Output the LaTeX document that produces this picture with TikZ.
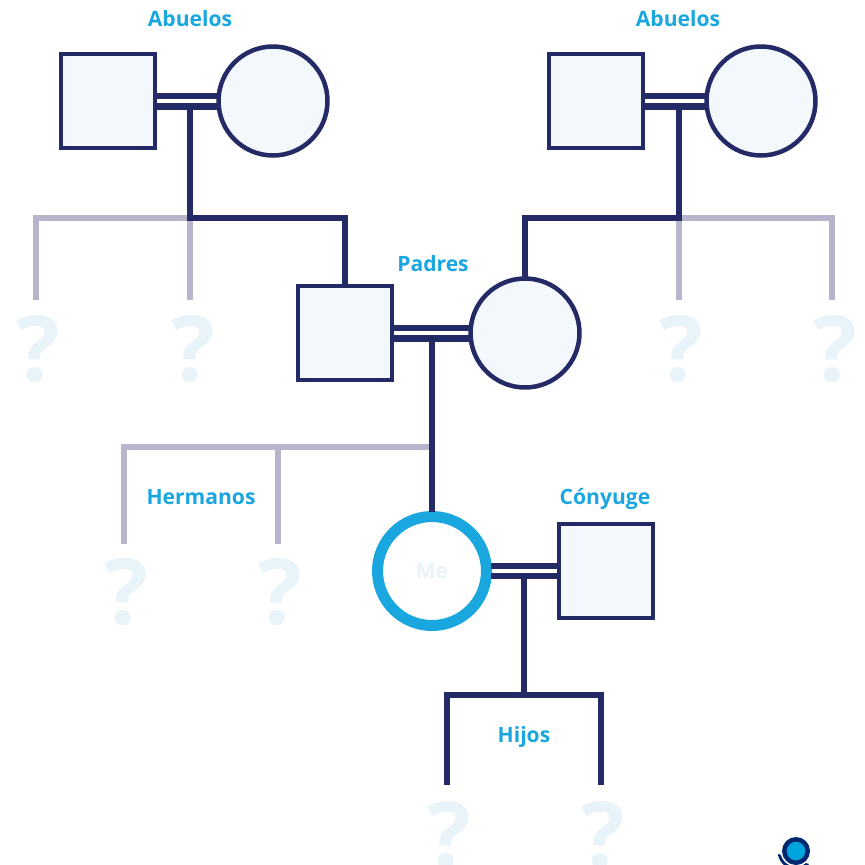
\documentclass[tikz,border=0pt]{standalone}
\usepackage{fontspec}
\setmainfont{Open Sans}
\definecolor{navy}{HTML}{232A66}
\definecolor{greyline}{HTML}{B7B4CC}
\definecolor{skyblue}{HTML}{1AA7E0}
\definecolor{paleblue}{HTML}{F3F8FD}
\definecolor{palemark}{HTML}{E8F3FA}
\definecolor{logonavy}{HTML}{00286E}
\definecolor{logoblue}{HTML}{00A5E0}
\tikzset{
  malebox/.style={rectangle, draw=navy, fill=paleblue, line width=0.09cm, minimum size=1.89cm, outer sep=0pt},
  femalebox/.style={circle, draw=navy, fill=paleblue, line width=0.09cm, minimum size=2.18cm, outer sep=0pt},
  grouplabel/.style={anchor=base, text=skyblue, font=\fontsize{12}{14}\selectfont\bfseries, inner sep=0pt},
  unknown/.style={text=palemark, font=\fontsize{52}{56}\selectfont\bfseries, inner sep=0pt},
  stem/.style={draw=navy, line width=0.125cm},
  sibling/.style={draw=greyline, line width=0.12cm}
}
\begin{document}
\begin{tikzpicture}[x=0.02cm, y=-0.02cm]
            \clip (0, 0) rectangle (865, 865);

            % Nodes
            \node (gfa) [malebox] at (108, 101) {};
            \node (gma) [femalebox] at (273, 101) {};
            \node (gfb) [malebox] at (596, 101) {};
            \node (gmb) [femalebox] at (761, 101) {};
            \node (fa) [malebox] at (345, 333) {};
            \node (mo) [femalebox] at (525, 333) {};
            \node (me) [circle, draw=skyblue, fill=white, line width=0.22cm, minimum size=2.18cm, outer sep=0pt, text=palemark, font=\fontsize{12}{14}\selectfont\bfseries] at (432, 571) {Me};
            \node (sp) [malebox] at (606, 571) {};

            % Labels
            \node (abuelosa) [grouplabel] at (190, 27) {Abuelos};
            \node (abuelosb) [grouplabel] at (678, 27) {Abuelos};
            \node (padres) [grouplabel] at (433, 271) {Padres};
            \node (hermanos) [grouplabel] at (201, 504) {Hermanos};
            \node (conyuge) [grouplabel] at (605, 504) {Cónyuge};
            \node (hijos) [grouplabel] at (524, 742) {Hijos};

            % Question marks
            \node (qa) [unknown] at (38, 349) {?};
            \node (qb) [unknown] at (193, 349) {?};
            \node (qc) [unknown] at (681, 349) {?};
            \node (qd) [unknown] at (835, 349) {?};
            \node (qe) [unknown] at (126, 592) {?};
            \node (qf) [unknown] at (280, 592) {?};
            \node (qg) [unknown] at (449, 835) {?};
            \node (qh) [unknown] at (603, 835) {?};

            % Junctions
            \coordinate (jga) at (190, 107);
            \coordinate (bga) at (190, 218);
            \coordinate (jgb) at (679, 107);
            \coordinate (bgb) at (679, 218);
            \coordinate (jpa) at (432, 339);
            \coordinate (bpa) at (432, 447);
            \coordinate (bsa) at (278, 447);
            \coordinate (jme) at (524, 576);
            \coordinate (bme) at (524, 695);

            % Free ends
            \coordinate (ea) at (36, 300);
            \coordinate (eb) at (190, 300);
            \coordinate (ec) at (679, 300);
            \coordinate (ed) at (832, 300);
            \coordinate (ee) at (124, 544);
            \coordinate (ef) at (278, 544);
            \coordinate (eg) at (447, 785);
            \coordinate (eh) at (601, 785);

            % Edges
            \draw[sibling] (ea) |- (bga) -- (eb);
            \draw[sibling] (ed) |- (bgb) -- (ec);
            \draw[sibling] (ee) |- (bpa);
            \draw[sibling] (bsa) -- (ef);

            \draw[stem] (jga) -- (bga) -| (fa.north);
            \draw[stem] (jgb) -- (bgb) -| (mo.north);
            \draw[stem] (jpa) -- ([yshift=0.1cm]me.north);
            \draw[stem] (jme) -- (bme);
            \draw[stem] (eg) |- (bme) -| (eh);

            % couples
            \draw[stem] ([yshift=0.1cm]gfa.east) -- ([yshift=0.1cm]gma.west);
            \draw[stem] ([yshift=-0.11cm]gfa.east) -- ([yshift=-0.11cm]gma.west);
            \draw[stem] ([yshift=0.1cm]gfb.east) -- ([yshift=0.1cm]gmb.west);
            \draw[stem] ([yshift=-0.11cm]gfb.east) -- ([yshift=-0.11cm]gmb.west);
            \draw[stem] ([yshift=0.1cm]fa.east) -- ([yshift=0.1cm]mo.west);
            \draw[stem] ([yshift=-0.11cm]fa.east) -- ([yshift=-0.11cm]mo.west);
            \draw[stem] ([xshift=0.1cm, yshift=0.1cm]me.east) -- ([yshift=0.1cm]sp.west);
            \draw[stem] ([xshift=0.1cm, yshift=-0.1cm]me.east) -- ([yshift=-0.1cm]sp.west);

            % logo
            \begin{scope}
                \clip (770, 851.4) -- (815, 866) -- (815, 875) -- (770, 875) -- cycle;
                \fill[logonavy] (796, 851) circle (18.5);
            \end{scope}
            \fill[white] (796, 851) circle (15.5);
            \draw[logonavy, fill=logoblue, line width=0.09cm] (796, 851) circle (11.7);

        \end{tikzpicture}
\end{document}
